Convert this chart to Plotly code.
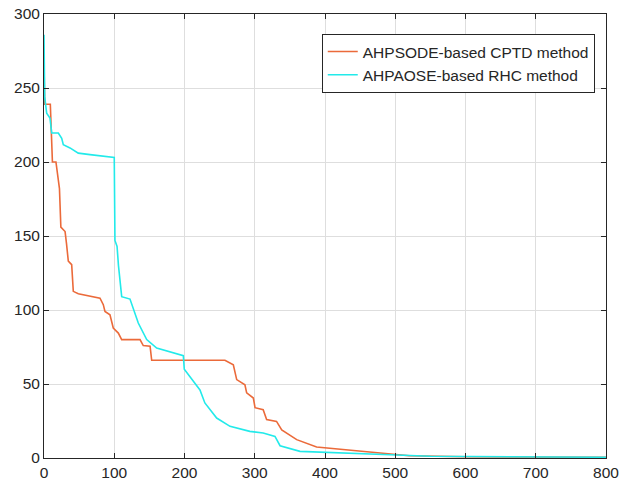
import plotly.graph_objects as go

# AHPSODE-based CPTD method (orange)
cptd_x = [0, 1, 9, 12, 17, 22, 24, 30, 32, 34.6, 39.4, 41.7, 48.8, 60.8, 79.7, 84.4, 86.8, 93.9,
          98.6, 105.8, 110.6, 136.7, 141.3, 151, 153.3, 257.6, 269.5, 274.3, 286, 288.5, 298, 300.4,
          312, 316.9, 331, 338.4, 359.7, 388, 402, 445, 488, 520, 600, 700, 800]
cptd_y = [266, 239, 239, 200, 200, 182, 156, 153, 145, 133, 130.6, 112.6, 111, 109.7, 108, 103.6, 99, 96.8,
          87.8, 84.4, 80, 80, 76, 75.5, 66, 66, 63, 53, 49.5, 44, 40.5, 34,
          32.6, 26, 24.7, 19, 12.4, 7.4, 6.8, 4.5, 2.9, 1.5, 0.8, 0.6, 0.5]

# AHPAOSE-based RHC method (cyan)
rhc_x = [0, 1, 3.8, 8.5, 11, 20.4, 25.2, 27.5, 37, 48.8, 65.5, 98.6, 100, 101, 104, 106, 110.6, 122.4,
         134.2, 146.2, 160.4, 198.3, 199.7, 222, 229, 245.8, 264.8, 293, 312, 328.8, 336, 364.4, 397.6,
         492.5, 550, 650, 800]
rhc_y = [286, 244, 233, 229.7, 219.6, 219.6, 216, 211.7, 209.5, 206, 205, 203.4, 203, 147, 143, 130, 109, 107.4,
         91.2, 80, 74.3, 69.1, 60, 46, 37.2, 27, 21.4, 18, 16.9, 14.6, 8.3, 4.5, 3.8,
         2.2, 1.2, 0.8, 0.5]

x_ticks = [0, 100, 200, 300, 400, 500, 600, 700, 800]
y_ticks = [0, 50, 100, 150, 200, 250, 300]

fig = go.Figure()
fig.add_trace(go.Scatter(x=cptd_x, y=cptd_y, mode="lines", name="AHPSODE-based CPTD method",
                         line=dict(color="#EB6A3A", width=1.6)))
fig.add_trace(go.Scatter(x=rhc_x, y=rhc_y, mode="lines", name="AHPAOSE-based RHC method",
                         line=dict(color="#22EAEA", width=1.6)))

axis_common = dict(showgrid=True, gridcolor="#DEDEDE", gridwidth=1, zeroline=False,
                   showline=True, linecolor="#262626", linewidth=1, mirror="ticks",
                   ticks="inside", ticklen=5, tickcolor="#262626", automargin=False,
                   tickfont=dict(family="Liberation Sans, Arial", size=15.5, color="#262626"))

fig.update_xaxes(range=[0, 800], tickvals=x_ticks, **axis_common)
fig.update_yaxes(range=[0, 300], tickvals=y_ticks, **axis_common)

fig.update_layout(
    width=620, height=491,
    margin=dict(l=44, r=14, t=14, b=33, autoexpand=False),
    paper_bgcolor="white", plot_bgcolor="white",
    showlegend=True,
    legend=dict(x=0.98, y=0.955, xanchor="right", yanchor="top",
                bgcolor="white", bordercolor="#262626", borderwidth=1,
                font=dict(family="Liberation Sans, Arial", size=15.5, color="#262626"),
                tracegroupgap=0, itemwidth=30),
)

fig.write_html("out.html")
